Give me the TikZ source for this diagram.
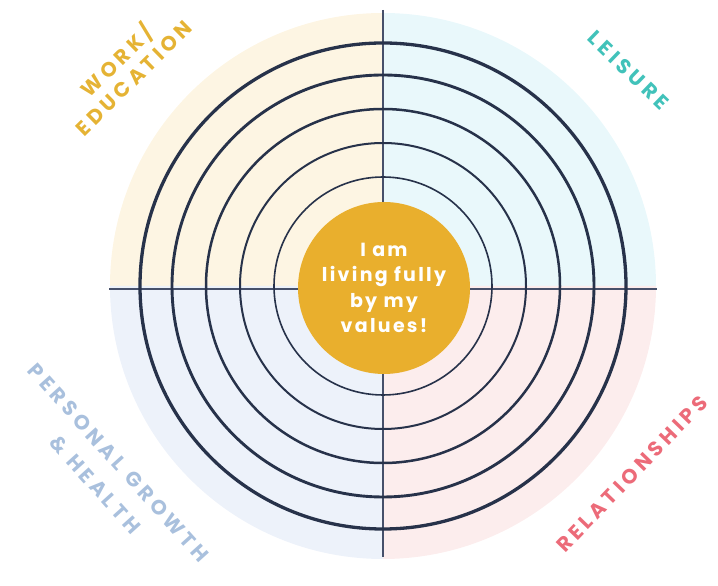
\documentclass[tikz,border=0pt]{standalone}
\usepackage{fontspec}
\usetikzlibrary{calc}
\setmainfont{Poppins}
\newfontfamily\labfont[LetterSpace=20]{Poppins}
\newfontfamily\corefont[LetterSpace=12]{Poppins}
\definecolor{qcream}{HTML}{FDF5E3}
\definecolor{qcyan}{HTML}{E9F8FB}
\definecolor{qblue}{HTML}{EDF2FA}
\definecolor{qpink}{HTML}{FCEDED}
\definecolor{ring}{HTML}{27324A}
\definecolor{axis}{HTML}{46506A}
\definecolor{gold}{HTML}{E9AF2D}
\definecolor{cwork}{HTML}{E5B334}
\definecolor{cleis}{HTML}{41C2BA}
\definecolor{cpers}{HTML}{A9C0DD}
\definecolor{crel}{HTML}{EC6B79}
\tikzset{
  ringline/.style={draw=ring},
  axisline/.style={draw=axis, line width=1.3pt},
  label/.style={font=\labfont\bfseries\fontsize{20.5}{24}\selectfont, align=center, inner sep=0pt},
}
\begin{document}
\begin{tikzpicture}[x=1pt,y=1pt]
\useasboundingbox (0,0) rectangle (718,586);
\coordinate (C) at (383,300);
% quadrants
\fill[qcyan]  (C) -- ++(0:273) arc (0:90:273) -- cycle;
\fill[qcream] (C) -- ++(90:273) arc (90:180:273) -- cycle;
\fill[qblue]  (C) -- ++(180:273) arc (180:270:273) -- cycle;
\fill[qpink]  (C) -- ++(270:273) arc (270:360:273) -- cycle;
% axes
\coordinate (top) at ($(C)+(0,276)$);
\coordinate (bot) at ($(C)+(0,-271)$);
\coordinate (lft) at ($(C)+(-274,-3)$);
\coordinate (rgt) at ($(C)+(274,-3)$);
\draw[axisline] (top) -- (bot);
\draw[axisline] (lft) -- (rgt);
% rings
\draw[ringline, line width=3.3pt] (C) circle (243);
\draw[ringline, line width=2.9pt] (C) circle (211);
\draw[ringline, line width=2.5pt] (C) circle (177);
\draw[ringline, line width=2.0pt] (C) circle (143);
\draw[ringline, line width=1.6pt] (C) circle (109);
% centre
\node[circle, fill=gold, minimum size=172pt, inner sep=0pt, text=white,
      font=\corefont\bfseries\fontsize{19}{25.5}\selectfont, align=center]
      (core) at ($(C)+(1,-2)$) {I am\\living fully\\by my\\values!};
% labels
\node[label, text=cwork, rotate=44.5] (work) at (124,518) {WORK/\\EDUCATION};
\node[label, text=cleis, rotate=-44] (leis) at (628.5,515.5) {LEISURE};
\node[label, text=crel, rotate=46] (rel) at (632,112) {RELATIONSHIPS};
\node[label, text=cpers, rotate=-48, font=\labfont\bfseries\fontsize{20.5}{32}\selectfont] (pers) at (106.8,112.2) {PERSONAL\hspace{9pt}GROWTH\\\&\hspace{9pt}HEALTH};
\end{tikzpicture}
\end{document}
